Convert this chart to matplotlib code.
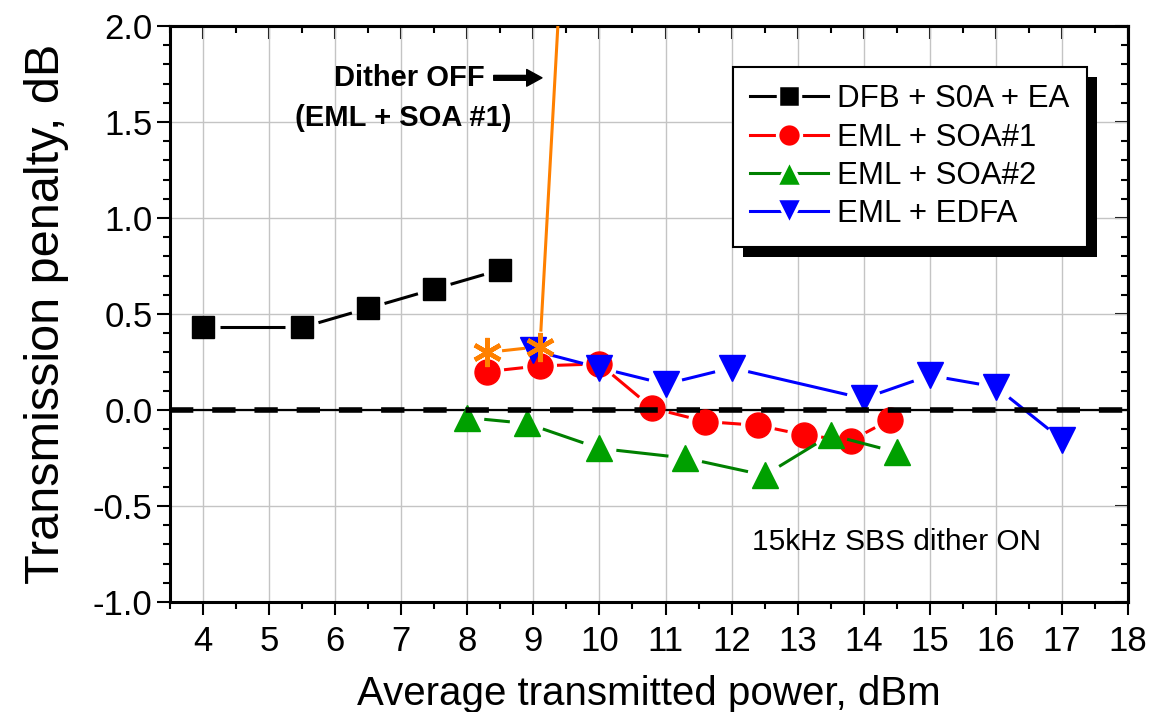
import numpy as np
import matplotlib
matplotlib.use("Agg")
import matplotlib.pyplot as plt
from matplotlib.ticker import MultipleLocator, FormatStrFormatter
from matplotlib.patches import Rectangle
from matplotlib.lines import Line2D
from matplotlib.transforms import IdentityTransform

plt.rcParams['font.family'] = ['Liberation Sans', 'DejaVu Sans']

# data
dfb_x = [4, 5.5, 6.5, 7.5, 8.5]
dfb_y = [0.43, 0.43, 0.53, 0.63, 0.73]

soa1_x = [8.3, 9.1, 10.0, 10.8, 11.6, 12.4, 13.1, 13.8, 14.4]
soa1_y = [0.20, 0.23, 0.24, 0.01, -0.06, -0.08, -0.13, -0.16, -0.05]

soa2_x = [8.0, 8.9, 10.0, 11.3, 12.5, 13.5, 14.5]
soa2_y = [-0.04, -0.07, -0.20, -0.25, -0.34, -0.13, -0.22]

edfa_x = [9.0, 10.0, 11.0, 12.0, 14.0, 15.0, 16.0, 17.0]
edfa_y = [0.31, 0.22, 0.135, 0.22, 0.06, 0.18, 0.12, -0.155]

off_x = [8.3, 9.1, 9.5]
off_y = [0.30, 0.33, 2.8]

labels = ['DFB + S0A + EA', 'EML + SOA#1', 'EML + SOA#2', 'EML + EDFA']

fig = plt.figure(figsize=(11.5, 7.12), dpi=100)
ax = fig.add_axes([170/1150, 1-602/712, 958/1150, 576/712])
ax.set_xlim(3.5, 18)
ax.set_ylim(-1.0, 2.0)

ax.grid(True, which='major', color='#c4c4c4', lw=1.0, zorder=0)
ax.set_axisbelow(True)

ax.axhline(0, color='black', lw=1.6, zorder=2)
ax.axhline(0, color='black', lw=4, ls=(0, (4.2, 3.4)), zorder=6)


def gapped(x, y, color, lw, gap, z):
    # Origin-style connecting lines that stop short of each symbol
    pts = ax.transData.transform(np.column_stack([x, y]))
    inv = ax.transData.inverted()
    for p, q in zip(pts[:-1], pts[1:]):
        d = q - p
        L = np.hypot(*d)
        if L <= 2 * gap:
            continue
        u = d / L
        a, b = inv.transform([p + u * gap, q - u * gap])
        ax.plot([a[0], b[0]], [a[1], b[1]], color=color, lw=lw, zorder=z,
                solid_capstyle='butt')


series = [
    (dfb_x, dfb_y, 'black', 'black', 's', 16.5, 3),
    (soa1_x, soa1_y, '#ff0000', '#ff0000', 'o', 18, 4),
    (soa2_x, soa2_y, '#008000', '#00a000', '^', 19, 4),
    (edfa_x, edfa_y, '#0000ff', '#0000ff', 'v', 19, 5),
]
handles = []
for (x, y, lc, mc, m, ms, z), lab in zip(series, labels):
    gapped(x, y, lc, 2.2, 17, z)
    ax.plot(x, y, ls='none', marker=m, ms=ms, mfc=mc, mec=mc, zorder=z)
    handles.append(Line2D([], [], color=lc, lw=2.2, marker=m, ms=ms * 0.95,
                          mfc=mc, mec='white', mew=2.5))

gapped(off_x, off_y, '#ff8000', 2.2, 15, 7)
ax.plot(off_x, off_y, ls='none', marker=(6, 2, 0), ms=21, mew=3.2,
        color='#ff8000', zorder=7)

# axes styling
ax.set_xticks(np.arange(4, 19, 1))
ax.xaxis.set_minor_locator(MultipleLocator(0.5))
ax.yaxis.set_major_locator(MultipleLocator(0.5))
ax.yaxis.set_minor_locator(MultipleLocator(0.1))
ax.yaxis.set_major_formatter(FormatStrFormatter('%.1f'))
ax.tick_params(which='both', direction='out', width=1.5)
ax.tick_params(which='major', length=9.5)
ax.tick_params(which='minor', length=5)
ax.tick_params(axis='x', labelsize=25, pad=7)
ax.tick_params(axis='y', labelsize=25, pad=3)
for s in ax.spines.values():
    s.set_linewidth(2.2)

top = ax.secondary_xaxis('top')
top.set_xticks(np.arange(4, 19, 1))
top.xaxis.set_minor_locator(MultipleLocator(0.5))
top.tick_params(which='both', direction='in', width=1.5, labeltop=False)
top.tick_params(which='major', length=9.5)
top.tick_params(which='minor', length=5)
top.spines['top'].set_linewidth(2.2)
right = ax.secondary_yaxis('right')
right.yaxis.set_major_locator(MultipleLocator(0.5))
right.yaxis.set_minor_locator(MultipleLocator(0.1))
right.tick_params(which='both', direction='in', width=1.5, labelright=False)
right.tick_params(which='major', length=9.5)
right.tick_params(which='minor', length=5)
right.spines['right'].set_linewidth(2.2)

ax.set_xlabel('Average transmitted power, dBm', fontsize=29, labelpad=12)
ax.set_ylabel('Transmission penalty, dB', fontsize=35, labelpad=17)

# annotations
ax.text(7.13, 1.73, 'Dither OFF', fontsize=21, fontweight='bold', ha='center', va='center')
ax.text(7.03, 1.52, '(EML + SOA #1)', fontsize=21, fontweight='bold', ha='center', va='center')
ax.annotate('', xy=(9.13, 1.73), xytext=(8.4, 1.73),
            arrowprops=dict(width=3.5, headwidth=12, headlength=11, color='black', shrink=0))
ax.text(14.49, -0.69, '15kHz SBS dither ON', fontsize=21.5, ha='center', va='center')

leg = ax.legend(handles, labels, loc='upper right', bbox_to_anchor=(0.957, 0.929),
                borderaxespad=0, fontsize=22.5, fancybox=False, framealpha=1,
                edgecolor='black', handlelength=2.5, handletextpad=0.3,
                labelspacing=0.27, borderpad=0.55)
leg.get_frame().set_linewidth(1.5)
leg.set_zorder(10)

fig.canvas.draw()
bb = leg.get_window_extent()
shadow = Rectangle((bb.x0 + 10, bb.y0 - 10), bb.width, bb.height, transform=IdentityTransform(),
                   facecolor='black', edgecolor='none', zorder=9.5, clip_on=False)
ax.add_artist(shadow)

fig.savefig('out.png', dpi=100)
